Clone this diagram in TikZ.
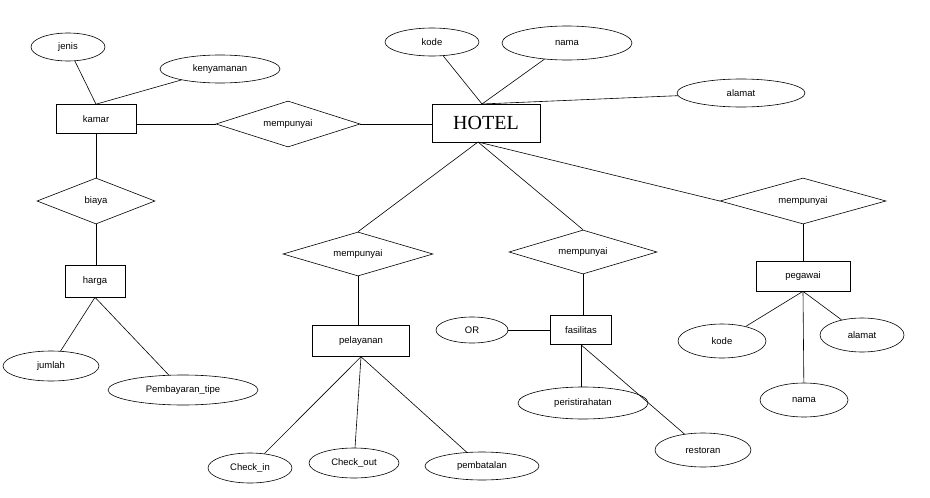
\documentclass[tikz,border=0pt]{standalone}
\usepackage{fontspec}
\setmainfont{Liberation Sans}
\newfontfamily\serifbig{Liberation Serif}
\usetikzlibrary{shapes.geometric}
\begin{document}
\begin{tikzpicture}[x=1pt,y=-1pt,
  attr/.style={draw,ellipse,inner sep=0pt,font=\fontsize{9.5}{11}\selectfont},
  ent/.style={draw,rectangle,inner sep=0pt,font=\fontsize{9.5}{11}\selectfont},
  rel/.style={draw,diamond,inner sep=0pt,shape aspect=3.2,font=\fontsize{9.5}{11}\selectfont},
  every path/.style={line width=0.6pt}]
\useasboundingbox[fill=white] (0,0) rectangle (930,498);
% entities
\node[ent,minimum width=80,minimum height=29] (kamar) at (96,119) {kamar};
\node[ent,minimum width=108,minimum height=38,font=\serifbig\fontsize{20}{22}\selectfont] (hotel) at (486,123) {HOTEL};
\node[ent,minimum width=60,minimum height=32] (harga) at (95,281) {harga};
\node[ent,minimum width=97,minimum height=31] (pel) at (361,341) {pelayanan};
\node[ent,minimum width=61,minimum height=29] (fas) at (581,330) {fasilitas};
\node[ent,minimum width=94,minimum height=30] (peg) at (803,276) {pegawai};
% relationships
\node[rel,minimum width=144,minimum height=46] (r1) at (288,124) {mempunyai};
\node[rel,shape aspect=2.6,minimum width=118,minimum height=46] (biaya) at (96,201) {biaya};
\node[rel,shape aspect=3.4,minimum width=150,minimum height=44] (r2) at (358,254) {mempunyai};
\node[rel,shape aspect=3.4,minimum width=148,minimum height=44] (r3) at (583,252) {mempunyai};
\node[rel,shape aspect=3.6,minimum width=166,minimum height=46] (r4) at (803,201) {mempunyai};
% attributes
\node[attr,minimum width=74,minimum height=28] (jenis) at (68,47) {jenis};
\node[attr,minimum width=120,minimum height=28] (keny) at (220,69) {kenyamanan};
\node[attr,minimum width=94,minimum height=28] (kode) at (432,42) {kode};
\node[attr,minimum width=130,minimum height=34] (nama) at (567,43) {nama};
\node[attr,minimum width=128,minimum height=28] (alamat) at (741,93) {alamat};
\node[attr,minimum width=96,minimum height=30] (jumlah) at (51,366) {jumlah};
\node[attr,minimum width=150,minimum height=30] (bayar) at (183,390) {Pembayaran\_tipe};
\node[attr,minimum width=84,minimum height=30] (cin) at (250,468) {Check\_in};
\node[attr,minimum width=90,minimum height=30] (cout) at (354,463) {Check\_out};
\node[attr,minimum width=114,minimum height=28] (batal) at (482,466) {pembatalan};
\node[attr,minimum width=72,minimum height=26] (or) at (472,330) {OR};
\node[attr,minimum width=130,minimum height=32] (isti) at (583,403) {peristirahatan};
\node[attr,minimum width=96,minimum height=34] (resto) at (703,450) {restoran};
\node[attr,minimum width=88,minimum height=34] (kode2) at (722,341) {kode};
\node[attr,minimum width=84,minimum height=34] (alamat2) at (862,335) {alamat};
\node[attr,minimum width=88,minimum height=34] (nama2) at (804,400) {nama};
% connectors
\coordinate (ht) at (482,104);
\coordinate (hb) at (478,142);
\draw (jenis) -- (kamar.north);
\draw (keny) -- (kamar.north);
\draw (r1.west -| kamar.east) -- (r1.west);
\draw (r1.east) -- (r1.east -| hotel.west);
\draw (ht) -- (kode);
\draw (ht) -- (nama);
\draw (ht) -- (alamat);
\draw (kamar.south) -- (biaya.north);
\draw (biaya.south) -- (biaya.south |- harga.north);
\draw (harga.south) -- (jumlah);
\draw (harga.south) -- (bayar);
\draw (hb) -- (r2.north);
\draw (hb) -- (r3.north);
\draw (hb) -- (r4.west);
\draw (r2.south) -- (r2.south |- pel.north);
\draw (pel.south) -- (cin);
\draw (pel.south) -- (cout);
\draw (pel.south) -- (batal);
\draw (r3.south) -- (r3.south |- fas.north);
\draw (or) -- (fas);
\draw (fas.south) -- (fas.south |- isti.north);
\draw (fas.south) -- (resto);
\draw (r4.south) -- (peg.north);
\draw (peg.south) -- (kode2);
\draw (peg.south) -- (nama2);
\draw (peg.south) -- (alamat2);
\end{tikzpicture}
\end{document}
